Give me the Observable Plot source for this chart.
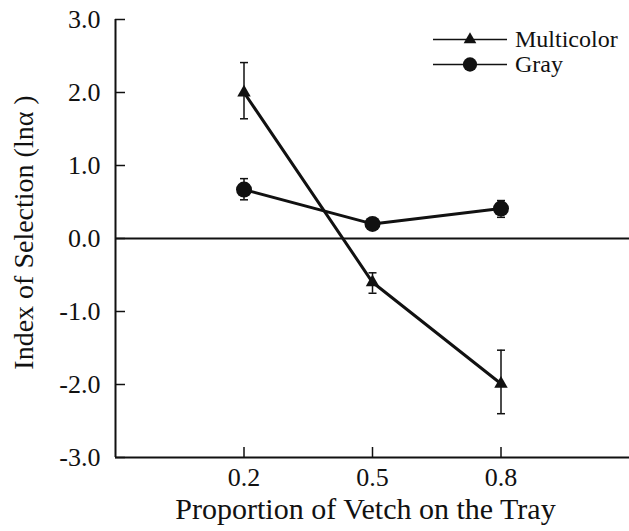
<!DOCTYPE html>
<html><head><meta charset="utf-8">
<script src="https://cdn.jsdelivr.net/npm/d3@7"></script>
<script src="https://cdn.jsdelivr.net/npm/@observablehq/plot@0.6"></script>
</head><body style="margin:0;background:#fff;font-family:'Liberation Serif'">
<div id="wrap" style="position:relative;width:629px;height:531px;font-family:'Liberation Serif'"></div>
<script>
// ---- data ----
const proportions = [0.2, 0.5, 0.8];
const xTicks = [0.2, 0.5, 0.8];
const yTicks = [-3, -2, -1, 0, 1, 2, 3];
const xDomain = [-0.1, 1.1];
const yDomain = [-3, 3];
const multicolor = [2.0, -0.60, -1.99];
const multicolorLow = [1.64, -0.75, -2.40];
const multicolorHigh = [2.41, -0.47, -1.53];
const gray = [0.67, 0.20, 0.41];
const grayLow = [0.53, 0.13, 0.29];
const grayHigh = [0.82, 0.27, 0.52];
const seriesNames = ["Multicolor", "Gray"];
const xTitle = "Proportion of Vetch on the Tray";
const yTitle = "Index of Selection (lnα )";

const multiRows = proportions.map((p, i) => ({p, v: multicolor[i], lo: multicolorLow[i], hi: multicolorHigh[i]}));
const grayRows = proportions.map((p, i) => ({p, v: gray[i], lo: grayLow[i], hi: grayHigh[i]}));
const errRows = [...multiRows, ...grayRows];

const cap = {draw(ctx, size){ const w = Math.sqrt(size / Math.PI); ctx.moveTo(-w, 0); ctx.lineTo(w, 0); }};
const font = "'Liberation Serif'";
const ink = "#111";

const chart = Plot.plot({
  width: 629, height: 531,
  marginLeft: 115, marginTop: 19, marginBottom: 74, marginRight: 0,
  x: {domain: xDomain},
  y: {domain: yDomain},
  style: {fontFamily: font, color: ink, background: "white"},
  marks: [
    Plot.axisY(yTicks, {tickSize: 0, tickPadding: 15, tickFormat: d => d.toFixed(1), fontSize: 26, fontFamily: font, label: null}),
    Plot.axisX(xTicks, {tickSize: 0, tickPadding: 10, tickFormat: d => d.toFixed(1), fontSize: 26, fontFamily: font, label: null}),
    Plot.tickY(yTicks, {y: d => d, insetRight: 504, stroke: ink, strokeWidth: 1.5}),
    Plot.tickX(xTicks, {x: d => d, insetTop: 428, stroke: ink, strokeWidth: 1.5}),
    Plot.ruleY([0], {stroke: ink, strokeWidth: 2}),
    Plot.ruleY([yDomain[0]], {stroke: ink, strokeWidth: 2}),
    Plot.ruleX([xDomain[0]], {stroke: ink, strokeWidth: 2}),
    Plot.ruleX(errRows, {x: "p", y1: "lo", y2: "hi", stroke: ink, strokeWidth: 1.5}),
    Plot.dot(errRows, {x: "p", y: "lo", symbol: cap, r: 4, stroke: ink, strokeWidth: 1.5, fill: "none"}),
    Plot.dot(errRows, {x: "p", y: "hi", symbol: cap, r: 4, stroke: ink, strokeWidth: 1.5, fill: "none"}),
    Plot.line(multiRows, {x: "p", y: "v", stroke: ink, strokeWidth: 3}),
    Plot.line(grayRows, {x: "p", y: "v", stroke: ink, strokeWidth: 3}),
    Plot.dot(multiRows, {x: "p", y: "v", symbol: "triangle", r: 5, fill: ink, stroke: "none"}),
    Plot.dot(grayRows, {x: "p", y: "v", symbol: "circle", r: 8, fill: ink, stroke: "none"}),
    Plot.text([yTitle], {frameAnchor: "left", textAnchor: "middle", rotate: -90, dx: -91, dy: -6, fontSize: 28, fontFamily: font, fill: ink}),
    Plot.text([xTitle], {frameAnchor: "bottom", textAnchor: "middle", dy: 61, dx: -7, fontSize: 30, fontFamily: font, fill: ink})
  ]
});
chart.style.fontFamily = font;
const wrap = document.getElementById("wrap");
wrap.appendChild(chart);

// legend
const legend = document.createElement("div");
legend.style.cssText = "position:absolute;left:433px;top:27px;font-family:'Liberation Serif';font-size:24px;color:#111;";
const symbols = ["triangle", "circle"];
seriesNames.forEach((name, i) => {
  const row = document.createElement("div");
  row.style.cssText = "display:flex;align-items:center;height:25px;";
  const svg = d3.create("svg").attr("width", 78).attr("height", 25).style("display", "block").style("margin-right", "4px");
  svg.append("line").attr("x1", 0).attr("x2", 74).attr("y1", 12.5).attr("y2", 12.5).attr("stroke", ink).attr("stroke-width", 1.5);
  const sym = symbols[i] === "triangle" ? d3.symbolTriangle : d3.symbolCircle;
  const size = symbols[i] === "triangle" ? 70 : 160;
  svg.append("path").attr("d", d3.symbol(sym, size)()).attr("transform", "translate(37,12.5)").attr("fill", ink);
  row.appendChild(svg.node());
  const span = document.createElement("span");
  span.textContent = name;
  span.style.fontFamily = "'Liberation Serif'";
  row.appendChild(span);
  legend.appendChild(row);
});
wrap.appendChild(legend);
</script>
</body></html>
